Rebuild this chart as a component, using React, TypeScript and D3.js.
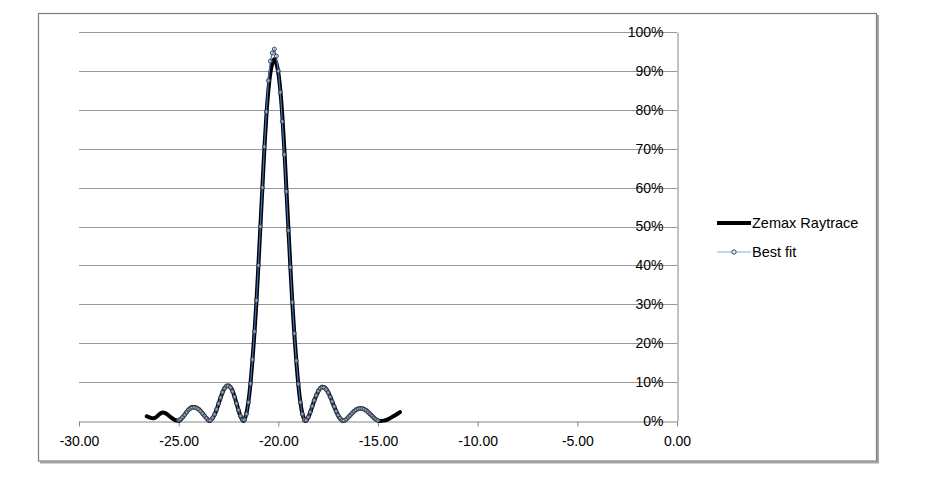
import { useEffect, useRef } from 'react';
import { scaleLinear, select, axisBottom, axisLeft, line, curveMonotoneX } from 'd3';

// axis ticks
const xTicks = [-30, -25, -20, -15, -10, -5, 0];
const yTicks = [0, 10, 20, 30, 40, 50, 60, 70, 80, 90, 100];
const gridTicks = [10, 20, 30, 40, 50, 60, 70, 80, 90, 100];

const seriesNames = ['Zemax Raytrace', 'Best fit'];

// [position, intensity %]
const raytrace: [number, number][] = [
  [-26.6, 1.2], [-26.5, 1.0], [-26.4, 0.8], [-26.3, 0.7], [-26.2, 0.8], [-26.1, 1.1],
  [-26.0, 1.6], [-25.9, 2.0], [-25.8, 2.2], [-25.7, 2.1], [-25.6, 1.8], [-25.5, 1.4],
  [-25.4, 1.0], [-25.3, 0.6], [-25.2, 0.3], [-25.1, 0.1], [-25.0, 0.0],
  [-24.9, 0.4], [-24.8, 0.9], [-24.7, 1.6], [-24.6, 2.3], [-24.5, 2.9], [-24.4, 3.4],
  [-24.3, 3.6], [-24.2, 3.6], [-24.1, 3.4], [-24.0, 3.1], [-23.9, 2.6], [-23.8, 2.0],
  [-23.7, 1.3], [-23.6, 0.7], [-23.5, 0.1], [-23.45, 0.0],
  [-23.4, 0.2], [-23.3, 0.7], [-23.2, 1.6], [-23.1, 2.9], [-23.0, 4.4], [-22.9, 5.9],
  [-22.8, 7.3], [-22.7, 8.4], [-22.6, 9.0], [-22.5, 9.1], [-22.4, 8.7], [-22.3, 7.8],
  [-22.2, 6.3], [-22.1, 4.6], [-22.0, 2.8], [-21.9, 1.2], [-21.8, 0.3], [-21.75, 0.0],
  [-21.7, 0.4], [-21.6, 2.0], [-21.5, 5.0], [-21.4, 9.5], [-21.3, 15.5], [-21.2, 22.5],
  [-21.1, 30.5], [-21.0, 40], [-20.9, 50], [-20.8, 60], [-20.7, 70], [-20.6, 78.5],
  [-20.5, 85], [-20.4, 89.5], [-20.3, 92], [-20.2, 93], [-20.1, 92], [-20.0, 89.5],
  [-19.9, 85], [-19.8, 78.5], [-19.7, 70], [-19.6, 60], [-19.5, 50], [-19.4, 40],
  [-19.3, 30.5], [-19.2, 22.5], [-19.1, 15.5], [-19.0, 9.5], [-18.9, 5.0], [-18.8, 2.0],
  [-18.7, 0.4], [-18.65, 0.0],
  [-18.5, 0.9], [-18.4, 2.2], [-18.3, 3.7], [-18.2, 5.2], [-18.1, 6.5], [-18.0, 7.6],
  [-17.9, 8.4], [-17.8, 8.8], [-17.7, 8.7], [-17.6, 8.2], [-17.5, 7.4], [-17.4, 6.3],
  [-17.3, 5.0], [-17.2, 3.7], [-17.1, 2.5], [-17.0, 1.4], [-16.9, 0.6], [-16.8, 0.15],
  [-16.75, 0.0],
  [-16.6, 0.4], [-16.5, 0.9], [-16.4, 1.5], [-16.3, 2.0], [-16.2, 2.5], [-16.1, 2.9],
  [-16.0, 3.2], [-15.9, 3.3], [-15.8, 3.3], [-15.7, 3.1], [-15.6, 2.8], [-15.5, 2.3],
  [-15.4, 1.8], [-15.3, 1.3], [-15.2, 0.8], [-15.1, 0.4], [-15.0, 0.1], [-14.9, 0.0],
  [-14.7, 0.1], [-14.5, 0.4], [-14.3, 1.0], [-14.1, 1.6], [-13.9, 2.3],
];

const bestFit: [number, number][] = [
  [-25.0, 0.2], [-24.9, 0.5], [-24.8, 1.0], [-24.7, 1.6], [-24.6, 2.3], [-24.5, 2.9],
  [-24.4, 3.3], [-24.3, 3.5], [-24.2, 3.5], [-24.1, 3.3], [-24.0, 3.0], [-23.9, 2.5],
  [-23.8, 1.9], [-23.7, 1.3], [-23.6, 0.7], [-23.5, 0.2], [-23.4, 0.2], [-23.3, 0.8],
  [-23.2, 1.7], [-23.1, 3.0], [-23.0, 4.5], [-22.9, 6.0], [-22.8, 7.4], [-22.7, 8.4],
  [-22.6, 9.0], [-22.5, 9.0], [-22.4, 8.6], [-22.3, 7.6], [-22.2, 6.2], [-22.1, 4.5],
  [-22.0, 2.8], [-21.9, 1.3], [-21.8, 0.3], [-21.7, 0.3], [-21.6, 1.8], [-21.5, 4.8],
  [-21.4, 9.6], [-21.3, 15.8], [-21.2, 23], [-21.1, 31], [-21.0, 40], [-20.9, 50],
  [-20.8, 60], [-20.7, 70.5], [-20.6, 79.5], [-20.5, 87.5], [-20.4, 92.5], [-20.3, 94.6],
  [-20.2, 95.6], [-20.1, 93.8], [-20.0, 90], [-19.9, 84.5], [-19.8, 77], [-19.7, 68.5],
  [-19.6, 59], [-19.5, 49], [-19.4, 39.5], [-19.3, 30.5], [-19.2, 22.5], [-19.1, 15.5],
  [-19.0, 9.5], [-18.9, 4.8], [-18.8, 1.8], [-18.7, 0.3], [-18.6, 0.2], [-18.5, 1.0],
  [-18.4, 2.3], [-18.3, 3.8], [-18.2, 5.3], [-18.1, 6.6], [-18.0, 7.7], [-17.9, 8.4],
  [-17.8, 8.7], [-17.7, 8.6], [-17.6, 8.1], [-17.5, 7.3], [-17.4, 6.2], [-17.3, 5.0],
  [-17.2, 3.7], [-17.1, 2.5], [-17.0, 1.5], [-16.9, 0.7], [-16.8, 0.2], [-16.7, 0.1],
  [-16.6, 0.4], [-16.5, 0.9], [-16.4, 1.4], [-16.3, 2.0], [-16.2, 2.5], [-16.1, 2.9],
  [-16.0, 3.1], [-15.9, 3.2], [-15.8, 3.2], [-15.7, 3.0], [-15.6, 2.7], [-15.5, 2.3],
  [-15.4, 1.8], [-15.3, 1.3], [-15.2, 0.8], [-15.1, 0.4], [-15.0, 0.1],
];

const FONT = '"Liberation Sans", Arial, sans-serif';
const FIT_BLUE = '#3f72b5';

export default function App() {
  const svgRef = useRef<SVGSVGElement>(null);

  useEffect(() => {
    if (!svgRef.current) return;
    const svg = select(svgRef.current);
    svg.selectAll('*').remove();

    const xScale = scaleLinear().domain([-30, 0]).range([79, 677]);
    const yScale = scaleLinear().domain([0, 100]).range([421, 32]);

    // Gridlines
    svg.append('g')
      .selectAll('line')
      .data(gridTicks)
      .enter()
      .append('line')
      .attr('x1', xScale(-30))
      .attr('x2', xScale(0))
      .attr('y1', (d) => Math.round(yScale(d)) + 0.5)
      .attr('y2', (d) => Math.round(yScale(d)) + 0.5)
      .attr('stroke', '#979797')
      .attr('stroke-width', 1);

    // X axis
    const xAxis = axisBottom(xScale)
      .tickValues(xTicks)
      .tickSize(5)
      .tickSizeOuter(0)
      .tickPadding(10)
      .tickFormat((d) => (d as number).toFixed(2));

    const gx = svg.append('g')
      .attr('transform', `translate(0,${Math.round(yScale(0)) + 0.5})`)
      .call(xAxis);
    gx.attr('font-family', FONT).attr('font-size', 14);
    gx.selectAll('path, line').attr('stroke', '#868686');
    gx.selectAll('text').attr('fill', '#000');

    // Y axis (sits at x = 0)
    const yAxis = axisLeft(yScale)
      .tickValues(yTicks)
      .tickSize(0)
      .tickSizeOuter(0)
      .tickPadding(14)
      .tickFormat((d) => `${d}%`);

    const gy = svg.append('g')
      .attr('transform', `translate(${Math.round(xScale(0)) + 0.5},0)`)
      .call(yAxis);
    gy.attr('font-family', FONT).attr('font-size', 14);
    gy.selectAll('path').attr('stroke', '#868686');
    gy.selectAll('text').attr('fill', '#000');

    // Zemax raytrace line
    const rayLine = line<[number, number]>()
      .x((d) => xScale(d[0]))
      .y((d) => yScale(d[1]))
      .curve(curveMonotoneX);

    svg.append('path')
      .datum(raytrace)
      .attr('d', rayLine)
      .attr('fill', 'none')
      .attr('stroke', '#000')
      .attr('stroke-width', 4)
      .attr('stroke-linejoin', 'round')
      .attr('stroke-linecap', 'round');

    // Best fit line + markers
    const fitLine = line<[number, number]>()
      .x((d) => xScale(d[0]))
      .y((d) => yScale(d[1]));

    svg.append('path')
      .datum(bestFit)
      .attr('d', fitLine)
      .attr('fill', 'none')
      .attr('stroke', FIT_BLUE)
      .attr('stroke-width', 1.2);

    svg.append('g')
      .selectAll('circle')
      .data(bestFit)
      .enter()
      .append('circle')
      .attr('cx', (d) => xScale(d[0]))
      .attr('cy', (d) => yScale(d[1]))
      .attr('r', 2)
      .attr('fill', '#cfdcec')
      .attr('fill-opacity', 0.55)
      .attr('stroke', '#2e3846')
      .attr('stroke-width', 0.9);

    // Legend
    const legend = svg.append('g').attr('font-family', FONT).attr('font-size', 14.5);
    legend.append('line')
      .attr('x1', 717).attr('x2', 751)
      .attr('y1', 223).attr('y2', 223)
      .attr('stroke', '#000').attr('stroke-width', 4);
    legend.append('text')
      .attr('x', 752).attr('y', 228)
      .attr('fill', '#000')
      .text(seriesNames[0]);
    legend.append('line')
      .attr('x1', 717).attr('x2', 751)
      .attr('y1', 252).attr('y2', 252)
      .attr('stroke', '#8fb0d8').attr('stroke-width', 1.2);
    legend.append('circle')
      .attr('cx', 734).attr('cy', 252).attr('r', 2.2)
      .attr('fill', '#e6edf6').attr('stroke', '#2e3846').attr('stroke-width', 0.9);
    legend.append('text')
      .attr('x', 752).attr('y', 257)
      .attr('fill', '#000')
      .text(seriesNames[1]);

    // Chart frame with a soft shadow on right / bottom
    svg.append('line')
      .attr('x1', 878).attr('x2', 878).attr('y1', 15).attr('y2', 463)
      .attr('stroke', '#a5a5a5').attr('stroke-width', 2);
    svg.append('line')
      .attr('x1', 40).attr('x2', 879).attr('y1', 462.5).attr('y2', 462.5)
      .attr('stroke', '#a5a5a5').attr('stroke-width', 2);
    svg.append('rect')
      .attr('x', 38.5).attr('y', 13.5)
      .attr('width', 838).attr('height', 447.5)
      .attr('fill', 'none')
      .attr('stroke', '#7f7f7f')
      .attr('stroke-width', 1.2);
  }, []);

  return (
    <svg
      ref={svgRef}
      width={932}
      height={480}
      style={{ position: 'absolute', left: 0, top: 0, background: '#fff' }}
    />
  );
}
